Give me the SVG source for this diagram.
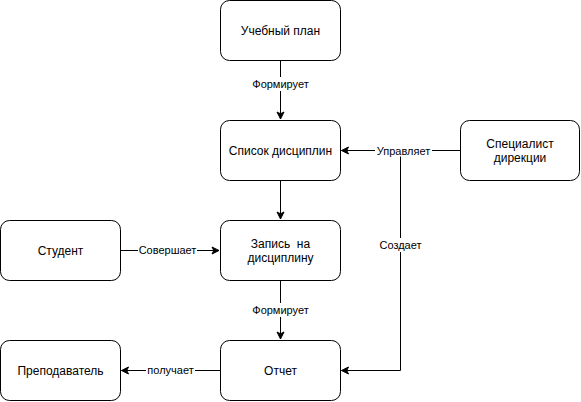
<svg xmlns="http://www.w3.org/2000/svg" width="581" height="402" viewBox="0 0 581 402">
  <defs>
    <marker id="arrow" markerWidth="10" markerHeight="10" refX="8" refY="5" orient="auto" markerUnits="userSpaceOnUse">
      <path d="M1,1.5 L8,5 L1,8.5 L2.8,5 Z" fill="#000" stroke="#000" stroke-width="1"/>
    </marker>
  </defs>
  <style>
    .node rect { fill: #fff; stroke: #000; stroke-width: 1; }
    .node text { font-family: "Liberation Sans", Arial, sans-serif; font-size: 12px; fill: #000; text-anchor: middle; }
    .edge { fill: none; stroke: #000; stroke-width: 1; }
    .lbl-bg { fill: #fff; }
    .lbl { font-family: "Liberation Sans", Arial, sans-serif; font-size: 11px; fill: #000; text-anchor: middle; }
  </style>
  <rect width="581" height="402" fill="#fff"/>

  <g id="connectors">
    <!-- Учебный план -> Список дисциплин -->
    <path class="edge" d="M280.5,60.5 L280.5,119" marker-end="url(#arrow)"/>
    <rect class="lbl-bg" x="250" y="77" width="61" height="14"/>
    <text class="lbl" x="280.5" y="88">Формирует</text>

    <!-- Специалист -> Отчет (branches off the line below) -->
    <path class="edge" d="M400.5,150.5 L400.5,370.5 L341.5,370.5" marker-end="url(#arrow)"/>
    <rect class="lbl-bg" x="378" y="238" width="45" height="14"/>
    <text class="lbl" x="400.5" y="249">Создает</text>

    <!-- Специалист -> Список дисциплин -->
    <path class="edge" d="M460.5,150.5 L341.5,150.5" marker-end="url(#arrow)"/>
    <rect class="lbl-bg" x="375" y="144" width="57" height="12.5"/>
    <text class="lbl" x="403.5" y="155">Управляет</text>

    <!-- Список дисциплин -> Запись на дисциплину -->
    <path class="edge" d="M280.5,180.5 L280.5,219" marker-end="url(#arrow)"/>

    <!-- Студент -> Запись на дисциплину -->
    <path class="edge" d="M120.5,250.5 L219,250.5" marker-end="url(#arrow)"/>
    <rect class="lbl-bg" x="138" y="243" width="59" height="14"/>
    <text class="lbl" x="167.5" y="254">Совершает</text>

    <!-- Запись на дисциплину -> Отчет -->
    <path class="edge" d="M280.5,280.5 L280.5,339" marker-end="url(#arrow)"/>
    <rect class="lbl-bg" x="250" y="303" width="61" height="14"/>
    <text class="lbl" x="280.5" y="314">Формирует</text>

    <!-- Отчет -> Преподаватель -->
    <path class="edge" d="M220.5,370.5 L121.5,370.5" marker-end="url(#arrow)"/>
    <rect class="lbl-bg" x="146" y="363" width="49" height="14"/>
    <text class="lbl" x="170.5" y="374">получает</text>
  </g>

  <g id="node-plan" class="node">
    <rect x="220.5" y="0.5" width="120" height="60" rx="9"/>
    <text x="280.5" y="34.5">Учебный план</text>
  </g>
  <g id="node-disciplines" class="node">
    <rect x="220.5" y="120.5" width="120" height="60" rx="9"/>
    <text x="280.5" y="154.5">Список дисциплин</text>
  </g>
  <g id="node-specialist" class="node">
    <rect x="460.5" y="120.5" width="119" height="60" rx="9"/>
    <text x="520" y="147.5">Специалист</text>
    <text x="520" y="161.5">дирекции</text>
  </g>
  <g id="node-student" class="node">
    <rect x="0.5" y="220.5" width="120" height="60" rx="9"/>
    <text x="60.5" y="254.5">Студент</text>
  </g>
  <g id="node-enrollment" class="node">
    <rect x="220.5" y="220.5" width="120" height="60" rx="9"/>
    <text x="280.5" y="247.5" xml:space="preserve">Запись  на</text>
    <text x="280.5" y="261.5">дисциплину</text>
  </g>
  <g id="node-teacher" class="node">
    <rect x="0.5" y="340.5" width="120" height="60" rx="9"/>
    <text x="60.5" y="374.5">Преподаватель</text>
  </g>
  <g id="node-report" class="node">
    <rect x="220.5" y="340.5" width="120" height="60" rx="9"/>
    <text x="280.5" y="374.5">Отчет</text>
  </g>
</svg>
